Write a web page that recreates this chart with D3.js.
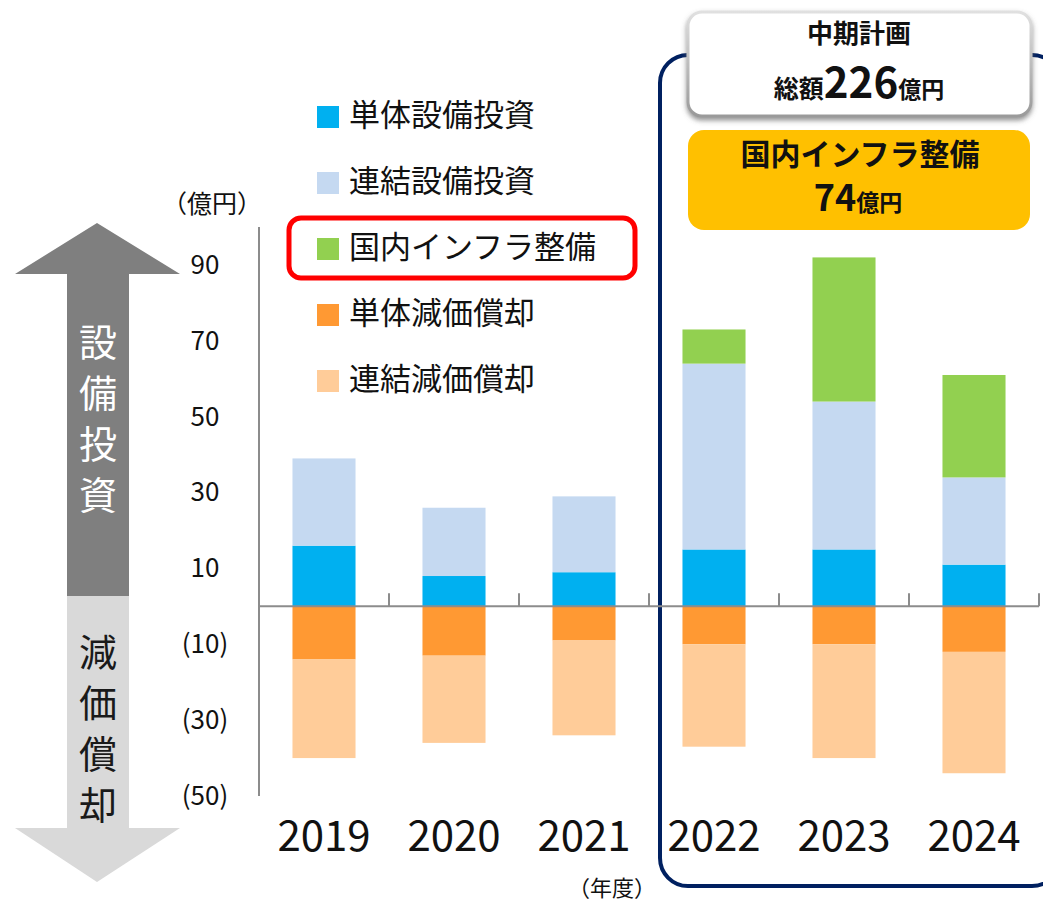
<!DOCTYPE html>
<html><head><meta charset="utf-8">
<script src="https://cdn.jsdelivr.net/npm/d3@7"></script>
<style>
html,body{margin:0;padding:0;background:#fff;}
svg{display:block;font-family:"Noto Sans CJK JP","Noto Sans",sans-serif;}
</style></head>
<body><svg id="c" width="1043" height="903"></svg>
<script>
// ---- data ----
const years = ["2019","2020","2021","2022","2023","2024"];
const singleCapex = [16, 8, 9, 15, 15, 11];
const consCapex   = [23, 18, 20, 49, 39, 23];
const infraCapex  = [0, 0, 0, 9, 38, 27];
const singleDep   = [-14, -13, -9, -10, -10, -12];
const consDep     = [-26, -23, -25, -27, -30, -32];
const yTicks = [90, 70, 50, 30, 10, -10, -30, -50];
const seriesKeys = ["single","cons","infra","depSingle","depCons"];
const seriesNames = ["単体設備投資","連結設備投資","国内インフラ整備","単体減価償却","連結減価償却"];
const seriesColors = ["#00B0F0","#C5D9F1","#92D050","#FF9933","#FFCC99"];

const svg = d3.select("#c");
const font = "'Noto Sans CJK JP','Noto Sans',sans-serif";

const rows = years.map((y,i)=>({year:y, single:singleCapex[i], cons:consCapex[i], infra:infraCapex[i], depSingle:singleDep[i], depCons:consDep[i]}));

const x = d3.scaleBand().domain(years).range([259,1039]).paddingInner(0.515).paddingOuter(0.2575);
const y = d3.scaleLinear().domain([-50,90]).range([796,265]);
const color = d3.scaleOrdinal().domain(seriesKeys).range(seriesColors);

// ---- navy rounded frame (mid-term plan) ----
svg.append("rect").attr("x",660).attr("y",55).attr("width",400).attr("height",831)
  .attr("rx",28).attr("fill","none").attr("stroke","#002060").attr("stroke-width",4);

// ---- left arrows ----
svg.append("path").attr("d","M97,223 L180,274 L129,274 L129,596 L67,596 L67,274 L15,274 Z").attr("fill","#7F7F7F");
svg.append("path").attr("d","M67,596 L129,596 L129,828 L180,828 L97,882 L15,828 L67,828 Z").attr("fill","#D9D9D9");
["設","備","投","資"].forEach((ch,i)=>{
  svg.append("text").attr("x",98).attr("y",339+51*i).attr("text-anchor","middle").attr("dominant-baseline","central")
    .attr("font-size",38).attr("fill","#fff").text(ch);
});
["減","価","償","却"].forEach((ch,i)=>{
  svg.append("text").attr("x",98).attr("y",649+51*i).attr("text-anchor","middle").attr("dominant-baseline","central")
    .attr("font-size",38).attr("fill","#1a1a1a").text(ch);
});

// ---- bars ----
const stacked = d3.stack().keys(seriesKeys).offset(d3.stackOffsetDiverging)(rows);
svg.append("g").selectAll("g").data(stacked).join("g").attr("fill",d=>color(d.key))
  .selectAll("rect").data(d=>d).join("rect")
  .attr("x",d=>x(d.data.year)).attr("width",x.bandwidth())
  .attr("y",d=>y(Math.max(d[0],d[1]))).attr("height",d=>Math.abs(y(d[0])-y(d[1])));

// ---- axes ----
const yTop = y(100);
svg.append("line").attr("x1",259).attr("x2",259).attr("y1",yTop).attr("y2",y(-50))
  .attr("stroke","#8c8c8c").attr("stroke-width",2);
svg.append("line").attr("x1",259).attr("x2",1039).attr("y1",y(0)).attr("y2",y(0))
  .attr("stroke","#8c8c8c").attr("stroke-width",2);
const bounds = years.map(d=>x(d)-x.step()*x.paddingInner()/2).concat([1039]);
bounds[0]=259;
svg.append("g").selectAll("line").data(bounds).join("line")
  .attr("x1",d=>d).attr("x2",d=>d).attr("y1",y(0)-13).attr("y2",y(0))
  .attr("stroke","#8c8c8c").attr("stroke-width",2);

const yAxis = d3.axisLeft(y).tickValues(yTicks).tickSize(0).tickPadding(54)
  .tickFormat(d=> d<0 ? "("+Math.abs(d)+")" : String(d));
const gy = svg.append("g").attr("transform","translate(259,0)").call(yAxis);
gy.select(".domain").remove();
gy.selectAll("text").attr("text-anchor","middle").attr("font-size",26).attr("font-family",font).attr("fill","#111");

const xAxis = d3.axisBottom(x).tickSize(0).tickPadding(0);
const gx = svg.append("g").attr("transform","translate(0,851)").call(xAxis);
gx.select(".domain").remove();
gx.selectAll("text").attr("dy",0).attr("font-size",42).attr("font-family",font).attr("fill","#111");

svg.append("text").attr("x",212).attr("y",202).attr("text-anchor","middle").attr("dominant-baseline","central")
  .attr("font-size",25).attr("fill","#111").text("（億円）");
svg.append("text").attr("x",612).attr("y",886).attr("text-anchor","middle").attr("dominant-baseline","central")
  .attr("font-size",22).attr("fill","#111").text("（年度）");

// ---- legend ----
const leg = svg.append("g").selectAll("g").data(seriesKeys).join("g")
  .attr("transform",(d,i)=>`translate(317,${117+66*i})`);
leg.append("rect").attr("x",0).attr("y",-11).attr("width",22).attr("height",22).attr("fill",d=>color(d));
leg.append("text").attr("x",32).attr("y",-5).attr("dominant-baseline","central").attr("font-size",31)
  .attr("fill","#111").text((d,i)=>seriesNames[i]);
svg.append("rect").attr("x",289).attr("y",218).attr("width",346).attr("height",60).attr("rx",12)
  .attr("fill","none").attr("stroke","#FF0000").attr("stroke-width",5);

// ---- plan boxes ----
const defs = svg.append("defs");
const f = defs.append("filter").attr("id","sh").attr("x","-10%").attr("y","-10%").attr("width","120%").attr("height","140%");
f.append("feDropShadow").attr("dx",0).attr("dy",3).attr("stdDeviation",2.5).attr("flood-color","#666").attr("flood-opacity",0.7);
const lg = defs.append("linearGradient").attr("id","edge").attr("x1",0).attr("y1",0).attr("x2",0).attr("y2",1);
lg.append("stop").attr("offset","0").attr("stop-color","#e0e0e0");
lg.append("stop").attr("offset","1").attr("stop-color","#9a9a9a");
svg.append("rect").attr("x",688).attr("y",12).attr("width",343).attr("height",104).attr("rx",14)
  .attr("fill","#fff").attr("stroke","url(#edge)").attr("stroke-width",3).attr("filter","url(#sh)");
svg.append("text").attr("x",859).attr("y",43).attr("text-anchor","middle").attr("font-size",26)
  .attr("font-weight","bold").attr("fill","#111").text("中期計画");
const t2 = svg.append("text").attr("x",859).attr("y",98).attr("text-anchor","middle").attr("font-weight","bold").attr("fill","#111");
t2.append("tspan").attr("font-size",25).text("総額");
t2.append("tspan").attr("font-size",42).text(d3.sum(singleCapex.slice(3))+d3.sum(consCapex.slice(3))+d3.sum(infraCapex.slice(3)));
t2.append("tspan").attr("font-size",23).text("億円");

svg.append("rect").attr("x",688).attr("y",130).attr("width",342).attr("height",100).attr("rx",16).attr("fill","#FFC000");
svg.append("text").attr("x",860).attr("y",165).attr("text-anchor","middle").attr("font-size",30)
  .attr("font-weight","bold").attr("fill","#111").text("国内インフラ整備");
const t3 = svg.append("text").attr("x",858).attr("y",211).attr("text-anchor","middle").attr("font-weight","bold").attr("fill","#111");
t3.append("tspan").attr("font-size",36).text(d3.sum(infraCapex));
t3.append("tspan").attr("font-size",23).text("億円");
</script></body></html>
